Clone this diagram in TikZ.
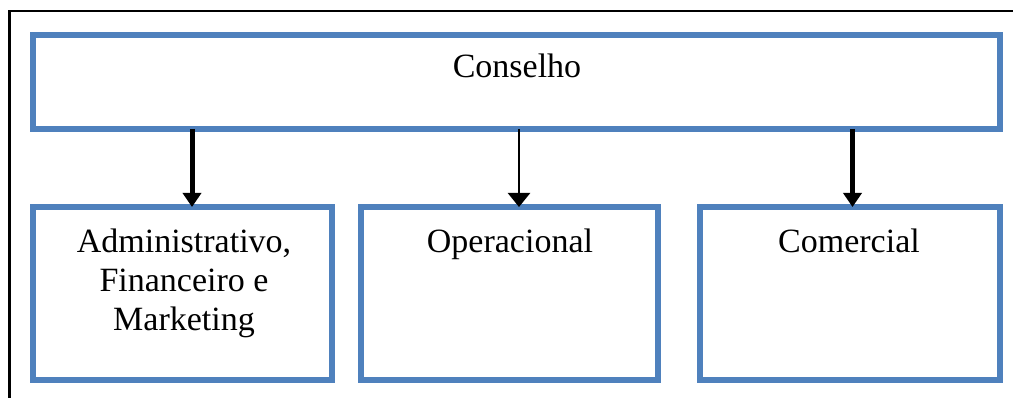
\documentclass[tikz,border=0pt]{standalone}
\usepackage{fontspec}
\setmainfont{Liberation Serif}
\usetikzlibrary{arrows.meta}
\definecolor{boxblue}{HTML}{4F81BD}
\begin{document}
\begin{tikzpicture}[x=1pt,y=-1pt,
  orgbox/.style={draw=boxblue,line width=6pt,rectangle,inner sep=0pt,outer sep=0pt,fill=white},
  lbl/.style={anchor=base,inner sep=0pt,font=\fontsize{34}{39}\selectfont,align=center},
  thickarrow/.style={line width=5pt,-{Triangle[width=18pt,length=14pt]}},
  thinarrow/.style={line width=2.5pt,-{Triangle[width=22pt,length=14pt]}}]
\useasboundingbox (0,0) rectangle (1013,398);
\fill[white] (0,0) rectangle (1013,398);
% outer frame
\draw[line width=2.8pt] (1013,11) -- (9.5,11) -- (9.5,398);
% boxes
\node[orgbox,minimum width=967pt,minimum height=94pt] (top) at (516.5,82) {};
\node[orgbox,minimum width=299pt,minimum height=173pt] (adm) at (182.5,293.5) {};
\node[orgbox,minimum width=297pt,minimum height=173pt] (op) at (509.5,293.5) {};
\node[orgbox,minimum width=300pt,minimum height=173pt] (com) at (850,293.5) {};
% labels
\node[lbl] (ttop) at (517,78) {Conselho};
\node[lbl,anchor=north] (tadm) at (184,229) {Administrativo,\\Financeiro e\\Marketing};
\node[lbl] (top2) at (510,253) {Operacional};
\node[lbl] (tcom) at (849,253) {Comercial};
% arrows
\draw[thickarrow] ([xshift=9.5pt]adm.north |- top.south) -- ([xshift=9.5pt]adm.north);
\draw[thinarrow] ([xshift=9.5pt]op.north |- top.south) -- ([xshift=9.5pt]op.north);
\draw[thickarrow] ([xshift=2.5pt]com.north |- top.south) -- ([xshift=2.5pt]com.north);
\end{tikzpicture}
\end{document}
